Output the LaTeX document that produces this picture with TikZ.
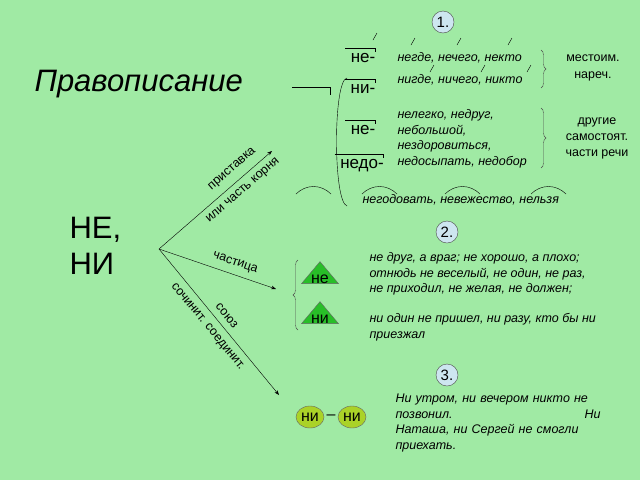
\documentclass[tikz,border=0pt]{standalone}
\usepackage{fontspec}
\setmainfont{Liberation Sans}
\usetikzlibrary{arrows.meta,positioning,decorations.pathreplacing,shapes.geometric}
\definecolor{bggreen}{RGB}{160,234,164}
\definecolor{numblue}{RGB}{205,230,240}
\definecolor{trigreen}{RGB}{40,190,40}
\definecolor{ovalgreen}{RGB}{170,210,40}
\begin{document}
\begin{tikzpicture}[x=1pt,y=-1pt,
      num_st/.style={
         circle,
         draw=black!70,
         fill=numblue,
         inner sep=0pt,
         minimum size=22pt,
         font=\fontsize{15}{15}\selectfont},
      ex_st/.style={
         anchor=west,
         align=left,
         font=\fontsize{12.5}{15.5}\selectfont\itshape},
      pref_st/.style={
         font=\fontsize{17}{17}\selectfont},
      tri_st/.style={
         isosceles triangle,isosceles triangle apex angle=80,shape border rotate=90,
         draw=black!60,
         fill=trigreen,
         inner sep=0pt,
         minimum width=32pt,minimum height=22pt},
      oval_st/.style={
         ellipse,
         draw=black!60,
         fill=ovalgreen,
         inner sep=0pt,
         minimum width=28pt,
         minimum height=22pt,
         font=\fontsize{16}{16}\selectfont},
      lab_st/.style={
         sloped,
         font=\fontsize{12.5}{13}\selectfont},
      arrow_black/.style={
        -Stealth,
        },
      brace_st/.style={
        decorate,
        decoration={brace,amplitude=5pt},
        draw=black!70,
        }
]
\fill[bggreen] (0,0) rectangle (640,480);
\useasboundingbox (0,0) rectangle (640,480);

% title
\node[anchor=west,font=\fontsize{31}{31}\selectfont\itshape] (title) at (31,84) {Правописание};
\node[anchor=west,align=left,font=\fontsize{31}{36}\selectfont] (neni) at (66,246) {НЕ,\\НИ};
\coordinate (root) at (159,249);

% numbers
\node[num_st] (n1) at (443,22) {1.};
\node[num_st] (n2) at (447,232) {2.};
\node[num_st] (n3) at (447,375) {3.};

% section 1
\node[pref_st] (p1) at (363,58) {не-};
\node[pref_st] (p2) at (363,89) {ни-};
\node[pref_st] (p3) at (363,130) {не-};
\node[pref_st] (p4) at (362,166) {недо-};
\foreach \n in {p1,p2,p3,p4}
  \draw ([xshift=-2pt,yshift=2pt]\n.north west) -- ([xshift=-4pt,yshift=2pt]\n.north east) -- ++(0,4);
\draw (373,40) -- (377,33);
\draw (292,87) -- (330,87) -- (330,95);
\draw (347,78) .. controls (333,80) and (333,202) .. (347,206);

\node[ex_st] (e1) at (394,58) {негде, нечего, некто};
\node[ex_st] (e2) at (394,80) {нигде, ничего, никто};
\foreach \x in {411,457,508} \draw (\x,45) -- (\x+4,38);
\foreach \x in {430,481,527} \draw (\x,72) -- (\x+4,65);
\draw[brace_st] (541,50) -- (541,88);
\node[align=center,font=\fontsize{12.5}{17}\selectfont] (mest) at (593,68) {местоим.\\нареч.};

\node[ex_st] (e3) at (394,139) {нелегко, недруг,\\небольшой,\\нездоровиться,\\недосыпать, недобор};
\draw[brace_st] (541,108) -- (541,168);
\node[align=center,font=\fontsize{12.5}{16}\selectfont] (drug) at (597,138) {другие\\самостоят.\\части речи};

\node[ex_st] (e4) at (359,200) {негодовать, невежество, нельзя};
\foreach \x in {296,362,445,531}
  \draw (\x,194) .. controls (\x+10,184) and (\x+25,184) .. (\x+35,194);

% section 2
\draw[brace_st] (298,330) -- (298,260);
\node[tri_st] (t1) at (320,275) {};
\node[font=\fontsize{16}{16}\selectfont] (tl1) at (320,279) {не};
\node[tri_st] (t2) at (320,315) {};
\node[font=\fontsize{16}{16}\selectfont] (tl2) at (320,319) {ни};
\node[ex_st] (e5) at (366,274) {не друг, а враг; не хорошо, а плохо;\\отнюдь не веселый, не один, не раз,\\не приходил, не желая, не должен;};
\node[ex_st] (e6) at (366,327) {ни один не пришел, ни разу, кто бы ни\\приезжал};

% section 3
\node[oval_st] (o1) at (310,417) {ни};
\node[oval_st] (o2) at (352,417) {ни};
\node[font=\fontsize{16}{16}\selectfont] (dash) at (331,417) {–};
\node[ex_st,text width=205pt] (e7) at (392,423) {Ни утром, ни вечером никто не\\позвонил. \hfill Ни\\Наташа, ни Сергей не смогли\\приехать.};

% arrows
\draw[arrow_black] (root) -- node[lab_st,above=4pt,pos=0.72] {приставка}
  node[lab_st,below=3pt,pos=0.68] {или часть корня} (272,151);
\draw[arrow_black] (root) -- node[lab_st,above=3pt,pos=0.62] {частица} (276,289);
\draw[arrow_black] (root) -- node[lab_st,above=3pt,pos=0.5] {союз}
  node[lab_st,below=4pt,pos=0.48] {сочинит. соединит.} (279,395);
\end{tikzpicture}
\end{document}
